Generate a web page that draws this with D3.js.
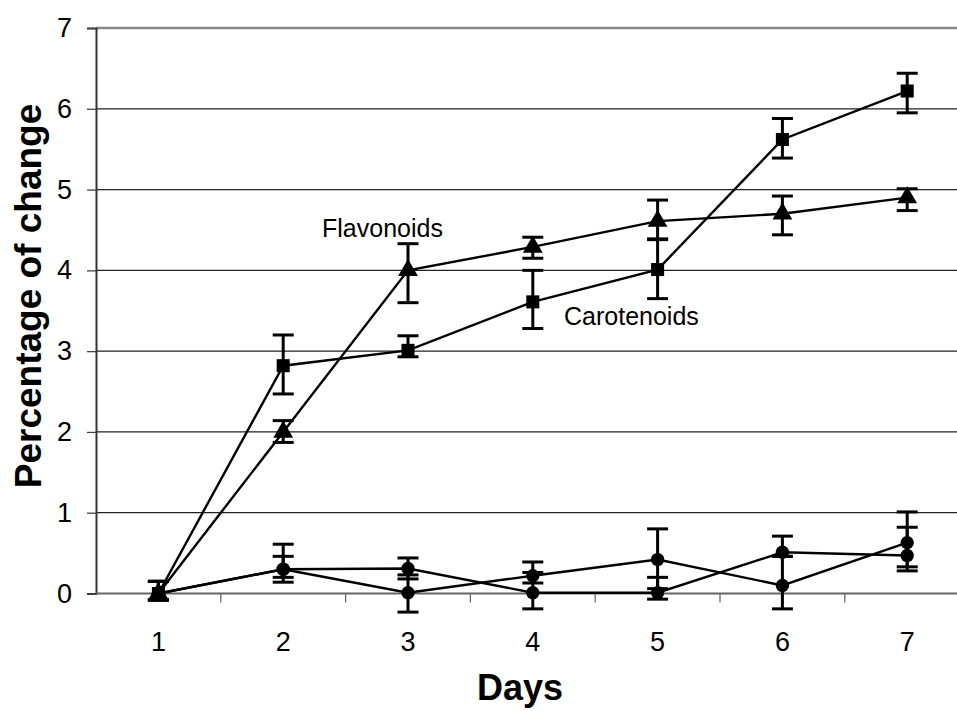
<!DOCTYPE html>
<html>
<head>
<meta charset="utf-8">
<script src="https://cdn.jsdelivr.net/npm/d3@7"></script>
<style>
  body { margin: 0; background: #fff; }
  svg { display: block; font-family: "Liberation Sans", Arial, sans-serif; }
</style>
</head>
<body>
<svg id="chart"></svg>
<script>
const WIDTH = 957;
const HEIGHT = 711;

const days = [1, 2, 3, 4, 5, 6, 7];
const yTicks = [0, 1, 2, 3, 4, 5, 6, 7];

// carotenoids (squares)
const carotenoids   = [0, 2.82, 3.01, 3.61, 4.01, 5.62, 6.22];
const carotenoidsHi = [0.15, 3.20, 3.19, 4.00, 4.38, 5.88, 6.44];
const carotenoidsLo = [-0.08, 2.47, 2.93, 3.28, 3.65, 5.39, 5.95];

// flavonoids (triangles)
const flavonoids   = [0, 2.00, 4.00, 4.29, 4.61, 4.70, 4.90];
const flavonoidsHi = [0.15, 2.14, 4.33, 4.41, 4.87, 4.92, 5.01];
const flavonoidsLo = [-0.08, 1.87, 3.60, 4.15, 4.39, 4.44, 4.74];

// the two control series (circles)
const controlA   = [0, 0.30, 0.31, 0.01, 0.01, 0.51, 0.47];
const controlAHi = [0.15, 0.46, 0.44, 0.26, 0.20, 0.71, 0.82];
const controlALo = [-0.08, 0.14, 0.18, -0.19, -0.07, 0.46, 0.33];

const controlB   = [0, 0.30, 0.01, 0.22, 0.42, 0.10, 0.63];
const controlBHi = [0.15, 0.61, 0.23, 0.39, 0.80, 0.46, 1.01];
const controlBLo = [-0.08, 0.20, -0.23, 0.13, 0.06, -0.19, 0.28];

function build(vals, hi, lo) {
    return days.map((d, i) => ({day: d, v: vals[i], hi: hi[i], lo: lo[i]}));
}

const series = [
    {name: "controlA", marker: "circle", data: build(controlA, controlAHi, controlALo)},
    {name: "controlB", marker: "circle", data: build(controlB, controlBHi, controlBLo)},
    {name: "flavonoids", marker: "triangle", data: build(flavonoids, flavonoidsHi, flavonoidsLo)},
    {name: "carotenoids", marker: "square", data: build(carotenoids, carotenoidsHi, carotenoidsLo)}
];

const plot = {left: 96, right: 969.6, top: 28, bottom: 593.5};

const x = d3.scaleBand().domain(days).range([plot.left, plot.right]);
const cx = d => x(d) + x.bandwidth() / 2;
const y = d3.scaleLinear().domain([0, 7]).range([plot.bottom, plot.top]);

const svg = d3.select("#chart")
    .attr("width", WIDTH)
    .attr("height", HEIGHT);

svg.append("rect").attr("width", WIDTH).attr("height", HEIGHT).attr("fill", "#fff");

// gridlines
svg.append("g")
    .selectAll("line")
    .data(yTicks.filter(t => t > 0 && t < 7))
    .enter().append("line")
    .attr("x1", plot.left).attr("x2", WIDTH)
    .attr("y1", d => y(d)).attr("y2", d => y(d))
    .attr("stroke", "#222").attr("stroke-width", 1.3);

// top border of plot area
svg.append("line")
    .attr("x1", plot.left).attr("x2", WIDTH)
    .attr("y1", y(7)).attr("y2", y(7))
    .attr("stroke", "#888").attr("stroke-width", 2.5);

// y axis
const yAxis = svg.append("g")
    .attr("transform", `translate(${plot.left},0)`)
    .call(d3.axisLeft(y).tickValues(yTicks).tickSize(9).tickPadding(15).tickFormat(d3.format("d")));
yAxis.select(".domain").attr("stroke", "#333").attr("stroke-width", 2);
yAxis.selectAll(".tick line").attr("stroke", "#444").attr("stroke-width", 1.3);
yAxis.selectAll(".tick text")
    .attr("font-size", 27).attr("fill", "#000")
    .attr("font-family", "Liberation Sans, Arial, sans-serif");

// x axis: baseline, ticks at category boundaries
svg.append("line")
    .attr("x1", plot.left).attr("x2", WIDTH)
    .attr("y1", y(0)).attr("y2", y(0))
    .attr("stroke", "#666").attr("stroke-width", 2);

svg.append("g")
    .selectAll("line")
    .data(days.slice(1))
    .enter().append("line")
    .attr("x1", d => x(d)).attr("x2", d => x(d))
    .attr("y1", y(0)).attr("y2", y(0) + 9)
    .attr("stroke", "#666").attr("stroke-width", 1.3);

svg.append("g")
    .selectAll("text")
    .data(days)
    .enter().append("text")
    .attr("x", d => cx(d))
    .attr("y", 651)
    .attr("text-anchor", "middle")
    .attr("font-size", 27)
    .text(d => d);

// axis titles
svg.append("text")
    .attr("x", 520).attr("y", 700)
    .attr("text-anchor", "middle")
    .attr("font-size", 36).attr("font-weight", "bold")
    .text("Days");

svg.append("text")
    .attr("transform", "translate(41,296) rotate(-90)")
    .attr("text-anchor", "middle")
    .attr("font-size", 37).attr("font-weight", "bold")
    .text("Percentage of change");

// lines
const line = d3.line().x(d => cx(d.day)).y(d => y(d.v));

svg.append("g")
    .selectAll("path")
    .data(series)
    .enter().append("path")
    .attr("d", s => line(s.data))
    .attr("fill", "none")
    .attr("stroke", "#000")
    .attr("stroke-width", 2.4);

// error bars
const capW = 10.5;
const eb = svg.append("g").attr("stroke", "#000").attr("stroke-width", 3);
series.forEach(s => {
    s.data.forEach(d => {
        const px = cx(d.day);
        eb.append("line").attr("x1", px).attr("x2", px).attr("y1", y(d.hi)).attr("y2", y(d.lo));
        eb.append("line").attr("x1", px - capW).attr("x2", px + capW).attr("y1", y(d.hi)).attr("y2", y(d.hi));
        eb.append("line").attr("x1", px - capW).attr("x2", px + capW).attr("y1", y(d.lo)).attr("y2", y(d.lo));
    });
});

// markers
const symbolFor = {
    circle: d3.symbol().type(d3.symbolCircle).size(140),
    square: d3.symbol().type(d3.symbolSquare).size(170),
    triangle: d3.symbol().type(d3.symbolTriangle).size(170)
};

series.forEach(s => {
    svg.append("g")
        .selectAll("path")
        .data(s.data)
        .enter().append("path")
        .attr("d", symbolFor[s.marker]())
        .attr("transform", d => `translate(${cx(d.day)},${y(d.v)})`)
        .attr("fill", "#000");
});

// series labels
svg.append("text").attr("x", 322).attr("y", 237).attr("font-size", 25).text("Flavonoids");
svg.append("text").attr("x", 564).attr("y", 325).attr("font-size", 25).text("Carotenoids");
</script>
</body>
</html>
